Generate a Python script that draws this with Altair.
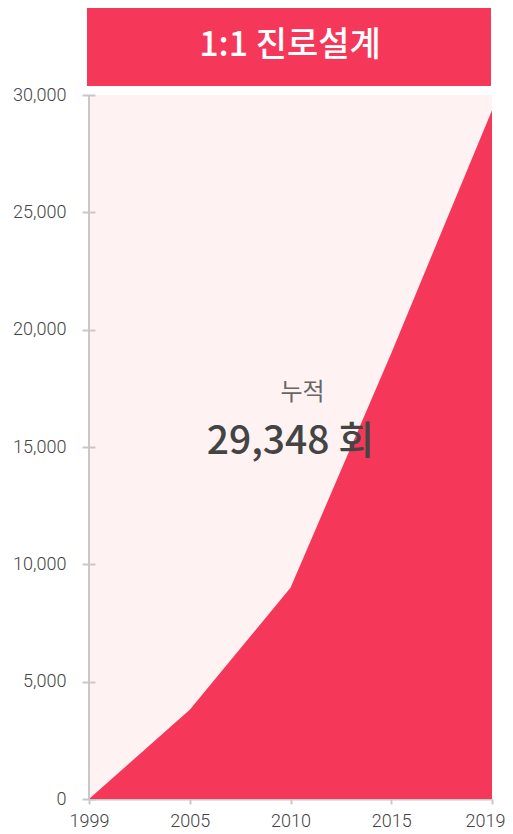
import altair as alt
import pandas as pd

years = ["1999", "2005", "2010", "2015", "2019"]
counts = [0, 3800, 9000, 19000, 29348]
y_ticks = [0, 5000, 10000, 15000, 20000, 25000, 30000]
title_text = "1:1 진로설계"
label_small = "누적"
label_big = "29,348 회"

RED = "#f5385a"
PINK = "#fef2f3"
AXIS = "#c8c8c8"

df = pd.DataFrame({"year": years, "count": counts})

x_enc = alt.X("year:O", scale=alt.Scale(type="point", padding=0),
              axis=alt.Axis(title=None, labelAngle=0, domain=True, domainColor=AXIS,
                            domainWidth=2, tickColor=AXIS, tickWidth=2, tickSize=5,
                            labelPadding=8, labelFont="Roboto", labelFontSize=18,
                            labelFontWeight=300, labelColor="#444",
                            labelAlign={"condition": {"test": "datum.label == '2019'", "value": "right"}, "value": "center"},
                            labelOffset={"condition": {"test": "datum.label == '2019'", "value": 13}, "value": 0}))
y_enc = alt.Y("count:Q", scale=alt.Scale(domain=[0, 30000], nice=False),
              axis=alt.Axis(title=None, values=y_ticks, format=",d", domain=False,
                            offset=-6, tickSize=13, tickColor=AXIS, tickWidth=2,
                            labelPadding=16, labelFont="Roboto", labelFontSize=18,
                            labelFontWeight=300, labelColor="#444", grid=False))

area = alt.Chart(df).mark_area(color=RED, opacity=1, interpolate="linear").encode(x=x_enc, y=y_enc)

domain_rule = alt.Chart(df).mark_rule(color=AXIS, strokeWidth=2).encode(
    x=alt.datum("1999"), y=alt.datum(0), y2=alt.datum(30000))

banner = alt.Chart(df).mark_rect(color=RED).encode(
    x=alt.value(-2), x2=alt.value(402), y=alt.value(-90), y2=alt.value(-9))

title = alt.Chart(pd.DataFrame({"t": [title_text]})).mark_text(
    font="Noto Sans CJK KR", fontSize=34, fontWeight=500, color="white",
    align="center", baseline="middle").encode(
    x=alt.value(201), y=alt.value(-49), text="t:N")

small = alt.Chart(pd.DataFrame({"t": [label_small]})).mark_text(
    font="Noto Sans CJK KR", fontSize=24, fontWeight=400, color="#666",
    align="center", baseline="middle", dx=12).encode(
    x=alt.datum("2010"), y=alt.datum(17300), text="t:N")

big = alt.Chart(pd.DataFrame({"t": [label_big]})).mark_text(
    font="Noto Sans CJK KR", fontSize=39, fontWeight=500, color="#444",
    align="center", baseline="middle", dy=2).encode(
    x=alt.datum("2010"), y=alt.datum(15300), text="t:N")

chart = alt.layer(area, domain_rule, banner, title, small, big).properties(
    width=403, height=704,
    autosize=alt.AutoSizeParams(type="none"),
    padding={"left": 81, "top": 87, "right": 13, "bottom": 34},
).configure_view(fill=PINK, stroke=None)

chart.save("out.html", embed_options={"renderer": "svg", "actions": False})
